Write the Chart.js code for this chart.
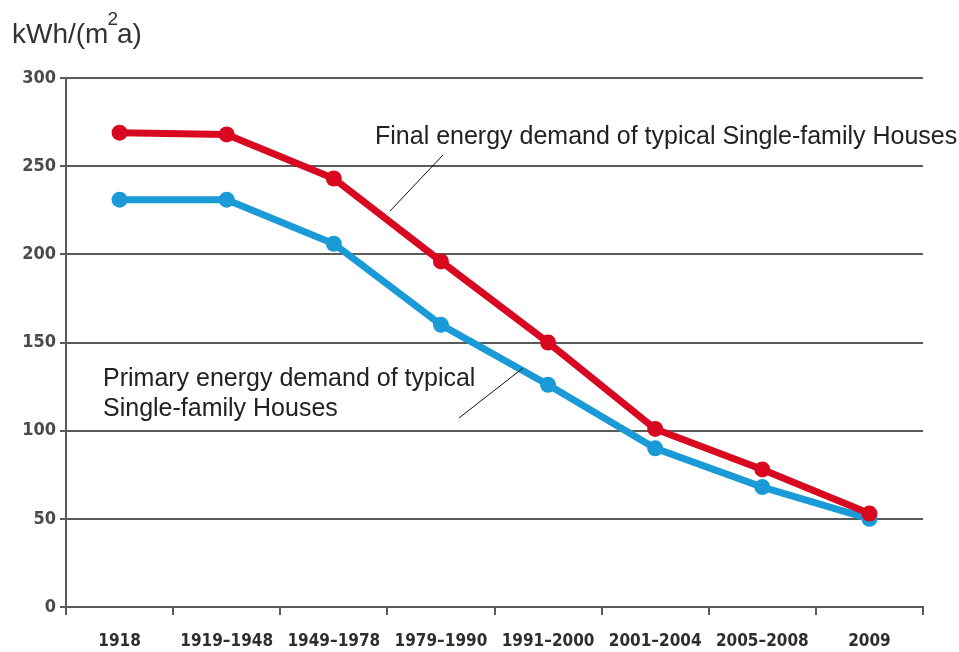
<!DOCTYPE html>
<html>
<head>
<meta charset="utf-8">
<script src="https://cdn.jsdelivr.net/npm/chart.js@4.4.1/dist/chart.umd.min.js"></script>
<style>
  html, body { margin: 0; padding: 0; background: #fff; }
  #wrap { width: 959px; height: 652px; }
</style>
</head>
<body>
<div id="wrap"><canvas id="canvas" width="959" height="652"></canvas></div>
<script>
const periods = ["1918", "1919–1948", "1949–1978", "1979–1990", "1991–2000", "2001–2004", "2005–2008", "2009"]
const finalDemand = [269, 268, 243, 196, 150, 101, 78, 53]
const primaryDemand = [231, 231, 206, 160, 126, 90, 68, 50]
const yMax = 300
const yStep = 50

const xTickFont = { family: "'DejaVu Sans Condensed', sans-serif", size: 17, weight: "bold" }
const yTickFont = { family: "'DejaVu Sans Condensed', sans-serif", size: 18, weight: "bold" }
const axisGray = "#5a5a5a"
const textFont = "'Liberation Sans', Arial, sans-serif"

// y axis unit at the top left, with a raised "2"
const unitTitle = {
  id: "unitTitle",
  afterDraw(chart) {
    const c = chart.ctx
    c.save()
    c.fillStyle = "#333"
    c.textBaseline = "alphabetic"
    c.font = "28px " + textFont
    let x = 12
    c.fillText("kWh/(m", x, 43)
    x += c.measureText("kWh/(m").width
    c.font = "19px " + textFont
    c.fillText("2", x - 1, 25)
    x += c.measureText("2").width - 2
    c.font = "28px " + textFont
    c.fillText("a)", x, 43)
    c.restore()
  }
}

// the two text labels with their thin leader lines
const seriesNotes = {
  id: "seriesNotes",
  afterDraw(chart) {
    const c = chart.ctx
    c.save()
    c.fillStyle = "#222"
    c.font = "25px " + textFont
    c.textBaseline = "alphabetic"
    c.fillText("Final energy demand of typical Single-family Houses", 375, 144)
    c.fillText("Primary energy demand of typical", 103, 386)
    c.fillText("Single-family Houses", 103, 416)

    c.strokeStyle = "#111"
    c.lineWidth = 1
    c.beginPath()
    c.moveTo(443, 155)
    c.lineTo(390, 211)
    c.moveTo(523, 368)
    c.lineTo(459, 418)
    c.stroke()
    c.restore()
  }
}

new Chart(document.getElementById("canvas"), {
  type: "line",
  data: {
    labels: periods,
    datasets: [
      {
        label: "Final energy demand",
        data: finalDemand,
        borderColor: "#d7081f",
        backgroundColor: "#d7081f",
        borderWidth: 7,
        pointRadius: 8,
        pointBorderWidth: 0,
        tension: 0
      },
      {
        label: "Primary energy demand",
        data: primaryDemand,
        borderColor: "#1a9ad6",
        backgroundColor: "#1a9ad6",
        borderWidth: 7,
        pointRadius: 8,
        pointBorderWidth: 0,
        tension: 0
      }
    ]
  },
  options: {
    responsive: false,
    animation: false,
    devicePixelRatio: 1,
    layout: { padding: { top: 78, right: 36, left: 0, bottom: 0 } },
    plugins: {
      legend: { display: false },
      tooltip: { enabled: false }
    },
    scales: {
      x: {
        offset: true,
        grid: {
          offset: true,
          drawOnChartArea: false,
          drawTicks: true,
          tickLength: 8,
          color: axisGray,
          lineWidth: 2
        },
        border: { color: axisGray, width: 2 },
        ticks: { color: "#2e2e2e", font: xTickFont, padding: 16, maxRotation: 0, autoSkip: false },
        afterFit: scale => { scale.height = 45 }
      },
      y: {
        min: 0,
        max: yMax,
        grid: { color: axisGray, lineWidth: 2, tickLength: 6 },
        border: { color: axisGray, width: 2 },
        ticks: { stepSize: yStep, color: "#4a4a4a", font: yTickFont, padding: 4 },
        afterFit: scale => { scale.width = 66 }
      }
    }
  },
  plugins: [unitTitle, seriesNotes]
})
</script>
</body>
</html>
